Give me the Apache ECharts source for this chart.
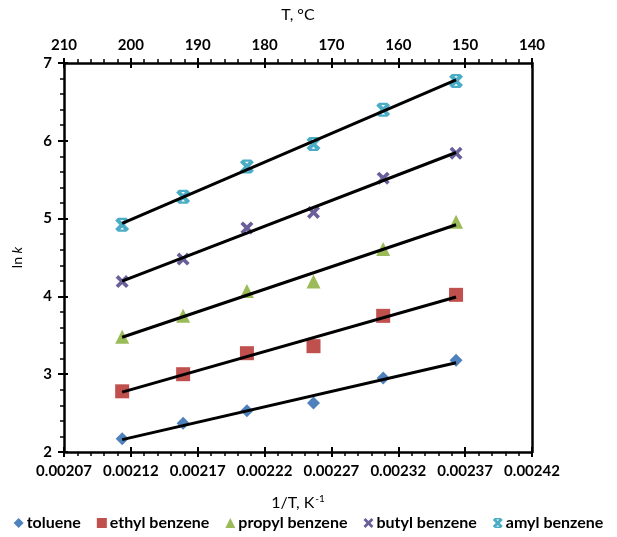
<!DOCTYPE html>
<html><head><meta charset="utf-8">
<script src="https://cdn.jsdelivr.net/npm/echarts@6/dist/echarts.min.js"></script>
<style>html,body{margin:0;padding:0;background:#fff}#c{width:617px;height:537px}</style>
</head><body><div id="c"></div>
<script>
// 1/T (K^-1) for T = 200,190,180,170,160,150 °C
const invT = [0.0021135, 0.0021591, 0.0022068, 0.0022566, 0.0023087, 0.0023632];
const xTickLabels = ['0.00207','0.00212','0.00217','0.00222','0.00227','0.00232','0.00237','0.00242'];
const topTickLabels = [210,200,190,180,170,160,150,140];
const toluene = [2.17, 2.37, 2.53, 2.63, 2.95, 3.18];
const ethylBenzene = [2.78, 3.00, 3.27, 3.36, 3.75, 4.02];
const propylBenzene = [3.48, 3.75, 4.07, 4.19, 4.61, 4.96];
const butylBenzene = [4.19, 4.48, 4.88, 5.08, 5.52, 5.84];
const amylBenzene = [4.92, 5.28, 5.67, 5.96, 6.40, 6.77];
const seriesNames = ['toluene','ethyl benzene','propyl benzene','butyl benzene','amyl benzene'];

const X0 = 207; // axis origin in 1e-5 K^-1 units
const toX = v => +(v * 1e5 - X0).toFixed(4);
const FONT = 'Lato';
const colors = ['#4F81BD','#C0504D','#9BBB59','#6A5F9A','#4BACC6'];
const xPath = 'path://M0,2 L2,0 L5,3 L8,0 L10,2 L7,5 L10,8 L8,10 L5,7 L2,10 L0,8 L3,5 Z';
const starPath = 'path://M0,2 L2,0 L5,3 L8,0 L10,2 L7,5 L10,8 L8,10 L5,7 L2,10 L0,8 L3,5 Z M2,0 L8,0 L8,1.6 L2,1.6 Z M2,8.4 L8,8.4 L8,10 L2,10 Z';
const symbols = ['diamond','rect','triangle', xPath, starPath];
const symSizes = [13, 14, 14, 13, 14];
const allData = [toluene, ethylBenzene, propylBenzene, butylBenzene, amylBenzene];

function fit(xs, ys){
  const n = xs.length; let sx=0, sy=0, sxx=0, sxy=0;
  for(let i=0;i<n;i++){sx+=xs[i];sy+=ys[i];sxx+=xs[i]*xs[i];sxy+=xs[i]*ys[i];}
  const b=(n*sxy-sx*sy)/(n*sxx-sx*sx), a=(sy-b*sx)/n; return [a,b];
}

const series = [];
const xs = invT.map(toX);
allData.forEach((ys, k) => {
  series.push({type:'scatter', name:seriesNames[k], data: xs.map((x,i)=>[x, ys[i]]),
    symbol: symbols[k], symbolSize: symSizes[k], itemStyle:{color: colors[k], opacity:1}, z:3});
});
allData.forEach((ys, k) => {
  const [a,b] = fit(xs, ys);
  const x1 = xs[0], x2 = xs[xs.length-1];
  series.push({type:'line', name:'_fit'+k, data:[[x1,a+b*x1],[x2,a+b*x2]], symbol:'none',
    lineStyle:{color:'#000', width:3}, silent:true, z:4});
});

const axisLine = {show:true, lineStyle:{color:'#000', width:2.5}};
const lbl = {color:'#000', fontFamily:FONT, fontSize:15, fontWeight:'bold'};
const chart = echarts.init(document.getElementById('c'), null, {renderer:'canvas'});
chart.setOption({
  animation:false,
  grid:{left:64, right:85, top:63, bottom:85, containLabel:false},
  xAxis:[
    {type:'value', position:'bottom', min:0, max:35, interval:5,
     axisLine, splitLine:{show:false},
     axisTick:{show:true, inside:false, length:5, lineStyle:{color:'#000', width:2}},
     minorTick:{show:true, splitNumber:5, length:4, lineStyle:{color:'#000', width:1.5}},
     axisLabel:{...lbl, margin:12, formatter:(v)=> xTickLabels[Math.round(v/5)]},
     name:'1/T, K{sup|-1}', nameLocation:'middle', nameGap:42,
     nameTextStyle:{...lbl, fontWeight:'normal', fontSize:16, rich:{sup:{fontFamily:FONT, fontSize:10, verticalAlign:'top', padding:[0,0,8,1], color:'#000'}}}},
    {type:'value', position:'top', min:140, max:210, interval:10, inverse:true,
     axisLine, splitLine:{show:false},
     axisTick:{show:true, inside:false, length:5, lineStyle:{color:'#000', width:2}},
     minorTick:{show:true, splitNumber:5, length:4, lineStyle:{color:'#000', width:1.5}},
     axisLabel:{...lbl, margin:10, formatter:(v)=> String(v)},
     name:'T, °C', nameLocation:'middle', nameGap:40, nameTextStyle:{...lbl, fontWeight:'normal', fontSize:16}},
    {type:'value', position:'bottom', min:0, max:35, interval:5,
     axisLine:{show:false}, splitLine:{show:false}, axisLabel:{show:false},
     axisTick:{show:true, inside:true, length:5, lineStyle:{color:'#000', width:2}}},
    {type:'value', position:'top', min:140, max:210, interval:10, inverse:true,
     axisLine:{show:false}, splitLine:{show:false}, axisLabel:{show:false},
     axisTick:{show:true, inside:true, length:5, lineStyle:{color:'#000', width:2}}}
  ],
  yAxis:[
    {type:'value', position:'left', min:2, max:7, interval:1,
     axisLine, splitLine:{show:false},
     axisTick:{show:true, inside:false, length:6, lineStyle:{color:'#000', width:2}},
     minorTick:{show:true, splitNumber:5, length:4, lineStyle:{color:'#000', width:1.5}},
     axisLabel:{...lbl, margin:12},
     name:'ln {it|k}', nameLocation:'middle', nameGap:40, nameRotate:90,
     nameTextStyle:{...lbl, fontWeight:'normal', fontSize:14, rich:{it:{fontFamily:FONT, fontSize:14, fontStyle:'italic', color:'#000'}}}},
    {type:'value', position:'left', min:2, max:7, interval:1,
     axisLine:{show:false}, splitLine:{show:false}, axisLabel:{show:false},
     axisTick:{show:true, inside:true, length:4, lineStyle:{color:'#000', width:2}}},
    {type:'value', position:'right', min:2, max:7, interval:1,
     axisLine, splitLine:{show:false}, axisLabel:{show:false}, axisTick:{show:false}}
  ],
  legend:{
    data: seriesNames.map((n,k)=>({name:n, icon: symbols[k]})),
    bottom:6, left:'center', padding:0, itemWidth:10, itemHeight:10, itemGap:16,
    textStyle:{...lbl, fontSize:16, padding:[0,0,0,-2]}
  },
  series
});
</script></body></html>
